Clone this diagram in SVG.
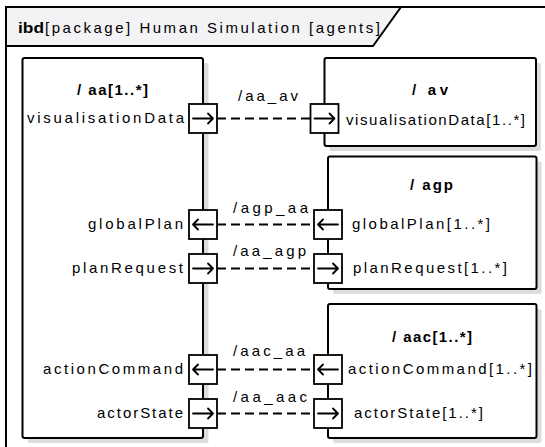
<svg xmlns="http://www.w3.org/2000/svg" width="545" height="447" viewBox="0 0 545 447">
  <style>
    text { font-family: "Liberation Sans", Arial, sans-serif; font-size: 15px; fill: #000; }
    .b { font-weight: bold; }
    .part { fill: #fff; stroke: #000; stroke-width: 2; }
    .shadow { fill: #dcdcdc; stroke: none; }
    .port { fill: #fff; stroke: #000; stroke-width: 1.8; }
    .arr { fill: none; stroke: #000; stroke-width: 1.8; stroke-linecap: round; stroke-linejoin: round; }
    .conn { fill: none; stroke: #000; stroke-width: 1.8; stroke-dasharray: 9 5; }
    .frame { fill: none; stroke: #000; stroke-width: 2; }
  </style>
  <defs>
    <!-- port with outgoing flow (arrow points right) -->
    <g id="portOut">
      <rect class="port" x="-14" y="-14.5" width="28" height="29"/>
      <path class="arr" d="M-10 0 H10 M5 -5 L10 0 L5 5"/>
    </g>
    <!-- port with incoming flow (arrow points left) -->
    <g id="portIn">
      <rect class="port" x="-14" y="-14.5" width="28" height="29"/>
      <path class="arr" d="M10 0 H-10 M-5 -5 L-10 0 L-5 5"/>
    </g>
  </defs>

  <rect width="545" height="447" fill="#fff"/>

  <!-- diagram frame -->
  <g id="frame">
    <path d="M6 7 H401 L373 46 H6 Z" fill="#f3f2f5" stroke="none"/>
    <path class="frame" d="M6 447 V7 H545"/>
    <path class="frame" d="M6 46 H373 L401 7"/>
    <text x="18" y="33" class="b" font-size="16" textLength="26" lengthAdjust="spacingAndGlyphs">ibd</text>
    <text x="45" y="33" font-size="16" textLength="335" lengthAdjust="spacing">[package] Human Simulation [agents]</text>
  </g>

  <!-- connectors -->
  <g id="connectors">
    <line class="conn" x1="217" y1="118.5" x2="310.5" y2="118.5"/>
    <line class="conn" x1="217" y1="224.5" x2="314" y2="224.5"/>
    <line class="conn" x1="217" y1="268.5" x2="314" y2="268.5"/>
    <line class="conn" x1="217" y1="369.5" x2="314" y2="369.5"/>
    <line class="conn" x1="217" y1="413.5" x2="314" y2="413.5"/>
    <text x="238" y="101" textLength="60" lengthAdjust="spacing">/aa_av</text>
    <text x="233" y="213" textLength="75" lengthAdjust="spacing">/agp_aa</text>
    <text x="233" y="256" textLength="73" lengthAdjust="spacing">/aa_agp</text>
    <text x="233" y="356" textLength="72" lengthAdjust="spacing">/aac_aa</text>
    <text x="233" y="402" textLength="74" lengthAdjust="spacing">/aa_aac</text>
  </g>

  <!-- part aa -->
  <g id="aa">
    <rect class="shadow" x="27.5" y="63" width="181" height="380" rx="2"/>
    <rect class="part" x="22.5" y="58" width="180.5" height="380" rx="2"/>
    <text x="77" y="95" class="b" textLength="71" lengthAdjust="spacing">/ aa[1..*]</text>
    <text x="27" y="123" textLength="157" lengthAdjust="spacing">visualisationData</text>
    <text x="88" y="229" textLength="95" lengthAdjust="spacing">globalPlan</text>
    <text x="72" y="273" textLength="111" lengthAdjust="spacing">planRequest</text>
    <text x="43" y="374" textLength="140" lengthAdjust="spacing">actionCommand</text>
    <text x="97" y="418" textLength="86" lengthAdjust="spacing">actorState</text>
    <use href="#portOut" x="203" y="118.5"/>
    <use href="#portIn" x="203" y="224.5"/>
    <use href="#portOut" x="203" y="268.5"/>
    <use href="#portIn" x="203" y="369.5"/>
    <use href="#portOut" x="203" y="413.5"/>
  </g>

  <!-- part av -->
  <g id="av">
    <rect class="shadow" x="329.5" y="63" width="211.5" height="88" rx="2"/>
    <rect class="part" x="324.5" y="58" width="211.5" height="88" rx="2"/>
    <text x="412" y="95" class="b" textLength="36" lengthAdjust="spacing">/ av</text>
    <text x="346" y="125" textLength="179" lengthAdjust="spacing">visualisationData[1..*]</text>
    <use href="#portOut" x="324.5" y="118.5"/>
  </g>

  <!-- part agp -->
  <g id="agp">
    <rect class="shadow" x="333" y="161.5" width="208.5" height="132.5" rx="2"/>
    <rect class="part" x="328" y="156.5" width="208.5" height="132.5" rx="2"/>
    <text x="410" y="190" class="b" textLength="43" lengthAdjust="spacing">/ agp</text>
    <text x="352" y="229" textLength="138" lengthAdjust="spacing">globalPlan[1..*]</text>
    <text x="353" y="273" textLength="154" lengthAdjust="spacing">planRequest[1..*]</text>
    <use href="#portIn" x="328" y="224.5"/>
    <use href="#portOut" x="328" y="268.5"/>
  </g>

  <!-- part aac -->
  <g id="aac">
    <rect class="shadow" x="333" y="309" width="208.5" height="134" rx="2"/>
    <rect class="part" x="328" y="304" width="208.5" height="134" rx="2"/>
    <text x="392" y="342" class="b" textLength="80" lengthAdjust="spacing">/ aac[1..*]</text>
    <text x="348" y="374" textLength="184" lengthAdjust="spacing">actionCommand[1..*]</text>
    <text x="354" y="418" textLength="129" lengthAdjust="spacing">actorState[1..*]</text>
    <use href="#portIn" x="328" y="369.5"/>
    <use href="#portOut" x="328" y="413.5"/>
  </g>
</svg>
